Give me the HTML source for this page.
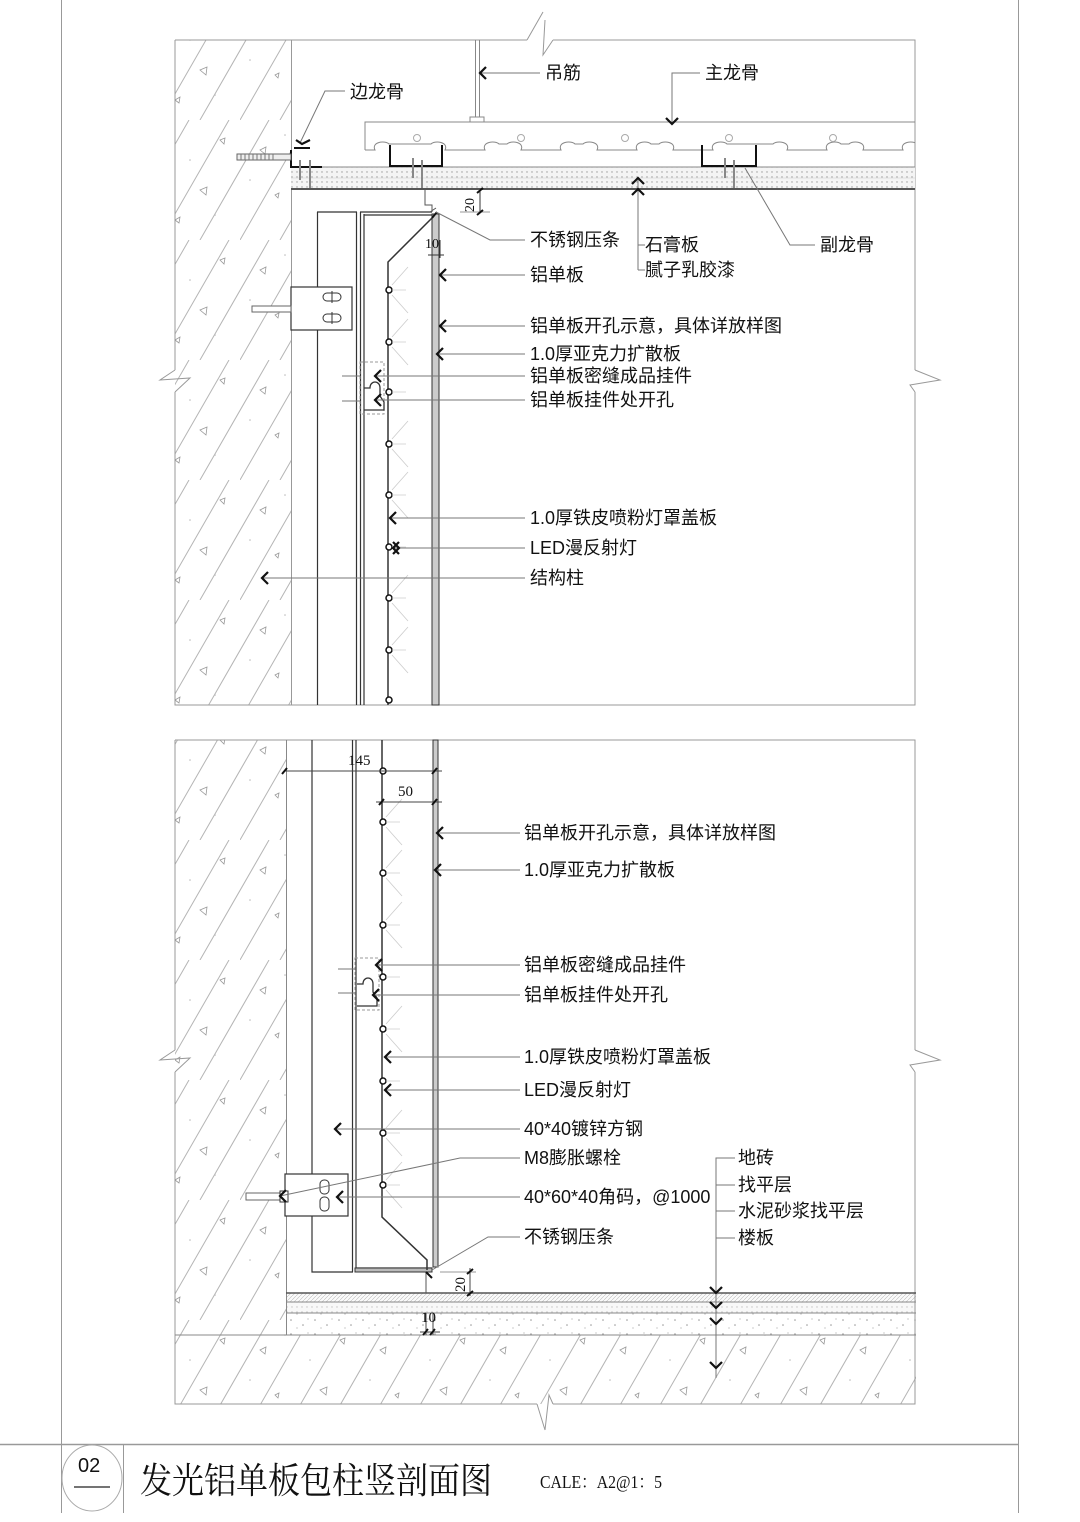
<!DOCTYPE html>
<html><head><meta charset="utf-8"><style>
html,body{margin:0;padding:0;background:#fff;}
svg{display:block;}
text{font-family:"Liberation Sans","Noto Sans CJK SC",sans-serif;fill:#111;}
</style></head><body>
<svg width="1080" height="1522" viewBox="0 0 1080 1522" xmlns="http://www.w3.org/2000/svg">
<defs>
<pattern id="conc" patternUnits="userSpaceOnUse" width="120" height="120">
 <rect width="120" height="120" fill="#fff"/>
 <path d="M0 120 L69 0 M40 120 L109 0 M80 120 L149 0 M-40 120 L29 0" stroke="#b5b5b5" stroke-width="1" fill="none"/>
 <path d="M20 30 l6 -3 l-1 7z M80 70 l7 -3 l-1 8z M55 100 l5 -3 l-1 6z M100 20 l5 -2 l-1 6z M35 75 l4 -2 l-1 5z" stroke="#999" stroke-width="0.8" fill="none"/>
 <circle cx="10" cy="60" r="0.8" fill="#bbb"/><circle cx="70" cy="40" r="0.8" fill="#bbb"/><circle cx="95" cy="95" r="0.8" fill="#bbb"/><circle cx="45" cy="15" r="0.8" fill="#bbb"/>
</pattern>
<pattern id="dots" patternUnits="userSpaceOnUse" width="5" height="5">
 <rect width="5" height="5" fill="#f4f4f4"/><circle cx="2" cy="2" r="0.7" fill="#999"/>
</pattern>
<pattern id="sand" patternUnits="userSpaceOnUse" width="24" height="14">
 <rect width="24" height="14" fill="#fff"/><circle cx="3" cy="4" r="0.8" fill="#999"/><circle cx="15" cy="9" r="0.8" fill="#999"/><circle cx="20" cy="3" r="0.6" fill="#aaa"/><circle cx="9" cy="12" r="0.6" fill="#aaa"/>
</pattern>
<pattern id="tile" patternUnits="userSpaceOnUse" width="4" height="4">
 <rect width="4" height="4" fill="#fafafa"/><path d="M0 4 L4 0" stroke="#bbb" stroke-width="0.6"/>
</pattern>
<clipPath id="cl"><rect x="300" y="100" width="615" height="80"/></clipPath>
</defs>

<!-- page borders -->
<line x1="61.5" y1="0" x2="61.5" y2="1513" stroke="#999"/>
<line x1="1018.5" y1="0" x2="1018.5" y2="1513" stroke="#999"/>
<line x1="0" y1="1444.5" x2="1018" y2="1444.5" stroke="#999" stroke-width="1.5"/>
<line x1="123.5" y1="1444" x2="123.5" y2="1513" stroke="#999"/>
<ellipse cx="92" cy="1478" rx="30" ry="33" fill="none" stroke="#aaa"/>
<text x="78" y="1472" style="font-family:'Liberation Sans Narrow','Liberation Sans',sans-serif;font-size:20px">02</text>
<line x1="74" y1="1487" x2="110" y2="1487" stroke="#222" stroke-width="1.2"/>
<text x="140" y="1493" textLength="352" lengthAdjust="spacingAndGlyphs" style="font-family:'Liberation Serif','Noto Serif CJK SC',serif;font-size:36px">发光铝单板包柱竖剖面图</text>
<text x="540" y="1488" textLength="122" lengthAdjust="spacingAndGlyphs" style="font-family:'Liberation Serif','Noto Serif CJK SC',serif;font-size:18px">CALE：A2@1：5</text>

<!-- ============ UPPER SECTION ============ -->
<rect x="175" y="40" width="116" height="665" fill="url(#conc)"/>
<path d="M175 40 H527 M553 40 H915 V370 M915 392 V705 H175 V392 M175 370 V40" fill="none" stroke="#999"/>
<path d="M527 40 L543 12 M553 40 L543 55 L545 20" fill="none" stroke="#999"/>
<path d="M175 370 L160 380 L190 378 L175 392 M915 370 L940 380 L910 385 L915 392" fill="none" stroke="#999"/>
<line x1="291.5" y1="40" x2="291.5" y2="705" stroke="#999"/>

<!-- ceiling -->
<rect x="291" y="167" width="624" height="23" fill="url(#dots)"/>
<line x1="291" y1="167" x2="915" y2="167" stroke="#888"/>
<line x1="291" y1="189" x2="915" y2="189" stroke="#555" stroke-width="2"/>
<line x1="291" y1="178" x2="915" y2="178" stroke="#ccc" stroke-width="0.6"/>
<path d="M365 150 V122 H915" fill="none" stroke="#888"/>
<g clip-path="url(#cl)">
<path d="M365 150 H375 c-4 -8 10 -10 14 -6 h42 c4 -4 18 -2 14 6 h40 c-4 -8 10 -10 14 -6 h8 c4 -4 18 -2 14 6 h40 c-4 -8 10 -10 14 -6 h8 c4 -4 18 -2 14 6 h40 c-4 -8 10 -10 14 -6 h8 c4 -4 18 -2 14 6 h40 c-4 -8 10 -10 14 -6 h46 c4 -4 18 -2 14 6 h40 c-4 -8 10 -10 14 -6 h8 c4 -4 18 -2 14 6 h40 c-4 -8 10 -10 14 -6 h8 c4 -4 18 -2 14 6 h26" fill="none" stroke="#888"/>
</g>
<g fill="none" stroke="#aaa"><circle cx="417" cy="138" r="3.5"/><circle cx="521" cy="138" r="3.5"/><circle cx="625" cy="138" r="3.5"/><circle cx="729" cy="138" r="3.5"/><circle cx="833" cy="138" r="3.5"/></g>
<path d="M390 145 V166 H442 V145 M702 145 V166 H756 V145" fill="none" stroke="#111" stroke-width="2"/>
<path d="M294 148 H310 M291 150 V167 H322" fill="none" stroke="#111" stroke-width="2"/>
<rect x="237" y="154" width="54" height="6" fill="#eee" stroke="#666"/>
<path d="M241 154 v6 M245 154 v6 M249 154 v6 M253 154 v6 M257 154 v6 M261 154 v6 M265 154 v6 M269 154 v6 M273 154 v6" stroke="#777"/>
<g stroke="#888" stroke-width="2"><line x1="300" y1="160" x2="300" y2="180"/><line x1="310" y1="160" x2="310" y2="188"/><line x1="413" y1="158" x2="413" y2="178"/><line x1="422" y1="160" x2="422" y2="188"/><line x1="725" y1="158" x2="725" y2="178"/><line x1="734" y1="160" x2="734" y2="188"/></g>
<line x1="475.5" y1="40" x2="475.5" y2="118" stroke="#888"/><line x1="479.5" y1="40" x2="479.5" y2="118" stroke="#888"/>
<rect x="470" y="117" width="14" height="5" fill="#fff" stroke="#888"/>

<!-- vertical system upper -->
<path d="M317 212 H357 M317.5 212 V705 M356.5 212 V705" fill="none" stroke="#333" stroke-width="1.2"/>
<path d="M360 212 H432 M360.5 212 V705 M364 214 V705 M364 215 H432" fill="none" stroke="#333" stroke-width="1.2"/>
<rect x="432" y="214" width="7" height="491" fill="#ccc" stroke="#333"/>
<path d="M432 218 L388 262 V705" fill="none" stroke="#333" stroke-width="1.5"/>
<path d="M425 190 V205 H432 V212 M430 212 L436 208" fill="none" stroke="#555"/>
<path d="M432 218 L437 212" stroke="#111" stroke-width="2"/>
<rect x="291" y="287" width="61" height="43" fill="#fff" stroke="#333" stroke-width="1.2"/>
<g fill="none" stroke="#333"><rect x="323" y="293" width="18" height="8" rx="4"/><rect x="323" y="314" width="18" height="8" rx="4"/><line x1="332" y1="291" x2="332" y2="303"/><line x1="332" y1="312" x2="332" y2="324"/></g>
<rect x="252" y="306" width="39" height="6" fill="#fff" stroke="#666"/>
<g stroke="#999" stroke-dasharray="3 2" fill="none"><rect x="360" y="362" width="24" height="52"/></g>
<path d="M364 388 h6 c0 -8 10 -8 10 0 v8 l4 6 v8 h-20" fill="none" stroke="#333" stroke-width="1.3"/>
<g stroke="#777"><line x1="342" y1="376" x2="360" y2="376"/><line x1="342" y1="401" x2="360" y2="401"/></g>
<g fill="#fff" stroke="#111" stroke-width="1.5">
<circle cx="389" cy="290" r="3"/><circle cx="389" cy="342" r="3"/><circle cx="389" cy="392" r="3"/><circle cx="389" cy="444" r="3"/><circle cx="389" cy="495" r="3"/><circle cx="389" cy="547" r="3"/><circle cx="389" cy="598" r="3"/><circle cx="389" cy="650" r="3"/><circle cx="389" cy="700" r="3"/>
</g>
<g stroke="#ccc" stroke-width="0.8">
<path d="M392 290 h14 M392 342 h14 M392 392 h14 M392 444 h14 M392 495 h14 M392 547 h14 M392 598 h14 M392 650 h14"/>
<path d="M392 285 l16 -18 M392 295 l16 18 M392 337 l16 -18 M392 347 l16 18 M392 439 l16 -18 M392 449 l16 18 M392 490 l16 -18 M392 500 l16 18 M392 593 l16 -18 M392 603 l16 18 M392 645 l16 -18 M392 655 l16 18"/>
</g>

<!-- upper dims -->
<g stroke="#333" fill="none"><line x1="480" y1="190" x2="480" y2="212"/><line x1="460" y1="212" x2="490" y2="212" stroke="#999"/><path d="M477 193 l6 -5 M477 215 l6 -5" stroke="#111" stroke-width="2"/>
<line x1="432" y1="240" x2="432" y2="258"/><line x1="440" y1="240" x2="440" y2="258"/><line x1="428" y1="255" x2="444" y2="255"/></g>
<text transform="translate(474,212) rotate(-90)" style="font-family:'Liberation Serif',serif;font-size:14px">20</text>
<text x="425" y="248" style="font-family:'Liberation Serif',serif;font-size:14px">10</text>

<!-- upper leaders -->
<g stroke="#777" fill="none" stroke-width="1">
<line x1="479" y1="73" x2="540" y2="73"/>
<path d="M700 73 H672 V124"/>
<path d="M345 91 H325 L300 143"/>
<path d="M436 212 L490 240 H525"/>
<path d="M640 245 H638 V180 M638 270 V245 M638 245 H645 M638 270 H645"/>
<path d="M745 168 L790 245 H815"/>
<line x1="440" y1="275" x2="525" y2="275"/>
<line x1="440" y1="326" x2="525" y2="326"/>
<line x1="437" y1="354" x2="525" y2="354"/>
<line x1="375" y1="376" x2="525" y2="376"/>
<line x1="375" y1="400" x2="525" y2="400"/>
<line x1="390" y1="518" x2="525" y2="518"/>
<line x1="393" y1="548" x2="525" y2="548"/>
<line x1="262" y1="578" x2="525" y2="578"/>
</g>
<g stroke="#111" stroke-width="2.2" fill="none">
<path d="M486 67 l-6 6 l6 6"/>
<path d="M666 118 l6 6 l6 -6"/>
<path d="M296 140 l6 4 l8 -4"/>
<path d="M632 184 l6 -6 l6 6 M632 195 l6 -6 l6 6"/>
<path d="M446 269 l-6 6 l6 6"/>
<path d="M446 320 l-6 6 l6 6"/>
<path d="M443 348 l-6 6 l6 6"/>
<path d="M381 370 l-6 6 l6 6"/>
<path d="M381 394 l-6 6 l6 6"/>
<path d="M396 512 l-6 6 l6 6"/>
<path d="M399 542 l-6 6 l6 6 M393 542 l6 6 l-6 6"/>
<path d="M268 572 l-6 6 l6 6"/>
</g>
<g style="font-size:18px">
<text x="545" y="79">吊筋</text>
<text x="705" y="79">主龙骨</text>
<text x="350" y="98">边龙骨</text>
<text x="530" y="246">不锈钢压条</text>
<text x="645" y="251">石膏板</text>
<text x="645" y="276">腻子乳胶漆</text>
<text x="820" y="251">副龙骨</text>
<text x="530" y="281">铝单板</text>
<text x="530" y="332">铝单板开孔示意，具体详放样图</text>
<text x="530" y="360">1.0厚亚克力扩散板</text>
<text x="530" y="382">铝单板密缝成品挂件</text>
<text x="530" y="406">铝单板挂件处开孔</text>
<text x="530" y="524">1.0厚铁皮喷粉灯罩盖板</text>
<text x="530" y="554">LED漫反射灯</text>
<text x="530" y="584">结构柱</text>
</g>

<!-- ============ LOWER SECTION ============ -->
<rect x="175" y="740" width="111" height="595" fill="url(#conc)"/>
<rect x="175" y="1335" width="741" height="69" fill="url(#conc)"/>
<rect x="286" y="1293" width="630" height="9" fill="url(#tile)"/>
<rect x="286" y="1302" width="630" height="11" fill="url(#dots)" opacity="0.6"/>
<rect x="286" y="1313" width="630" height="22" fill="url(#sand)"/>
<path d="M175 740 H915 V1050 M915 1072 V1404 H553 M537 1404 H175 V1072 M175 1050 V740" fill="none" stroke="#999"/>
<path d="M175 1050 L160 1060 L190 1058 L175 1072 M915 1050 L940 1060 L910 1065 L915 1072 M537 1404 L545 1430 L549 1395 L553 1404" fill="none" stroke="#999"/>
<path d="M286.5 740 V1335 M175 1335 H916 M286 1293 H916 M286 1302 H916 M286 1313 H916" fill="none" stroke="#888"/>
<line x1="286" y1="1293" x2="916" y2="1293" stroke="#555" stroke-width="1.5"/>

<path d="M312 740 V1272 H353 M312 1272 V740" fill="none" stroke="#333" stroke-width="1.2"/>
<path d="M352.5 740 V1272 M356 740 V1268 H432" fill="none" stroke="#333" stroke-width="1.2"/>
<rect x="355" y="1268" width="77" height="4" fill="#bbb" stroke="#333"/>
<rect x="433" y="740" width="5" height="527" fill="#ccc" stroke="#333"/>
<path d="M382 740 V1217 L427 1260 V1270" fill="none" stroke="#333" stroke-width="1.5"/>
<path d="M426 1272 V1293 M418 1293 H426" fill="none" stroke="#555"/>
<path d="M426 1272 l6 6" stroke="#111" stroke-width="2"/>
<rect x="285" y="1174" width="63" height="42" fill="#fff" stroke="#333" stroke-width="1.2"/>
<g fill="none" stroke="#333"><rect x="320" y="1180" width="9" height="14" rx="4"/><rect x="320" y="1197" width="9" height="14" rx="4"/></g>
<rect x="246" y="1193" width="39" height="7" fill="#fff" stroke="#666"/>
<rect x="280" y="1191" width="8" height="11" fill="#fff" stroke="#333"/>
<g stroke="#999" stroke-dasharray="3 2" fill="none"><rect x="355" y="958" width="24" height="52"/></g>
<path d="M357 984 h6 c0 -8 10 -8 10 0 v8 l4 6 v8 h-20" fill="none" stroke="#333" stroke-width="1.3"/>
<g stroke="#777"><line x1="338" y1="969" x2="355" y2="969"/><line x1="338" y1="993" x2="355" y2="993"/></g>
<g fill="#fff" stroke="#111" stroke-width="1.5">
<circle cx="383" cy="771" r="3"/><circle cx="383" cy="822" r="3"/><circle cx="383" cy="873" r="3"/><circle cx="383" cy="925" r="3"/><circle cx="383" cy="977" r="3"/><circle cx="383" cy="1029" r="3"/><circle cx="383" cy="1081" r="3"/><circle cx="383" cy="1133" r="3"/><circle cx="383" cy="1185" r="3"/>
</g>
<g stroke="#ccc" stroke-width="0.8">
<path d="M386 822 h14 M386 873 h14 M386 925 h14 M386 977 h14 M386 1029 h14 M386 1081 h14 M386 1133 h14 M386 1185 h14"/>
<path d="M386 817 l16 -18 M386 827 l16 18 M386 868 l16 -18 M386 878 l16 18 M386 920 l16 -18 M386 930 l16 18 M386 1024 l16 -18 M386 1034 l16 18 M386 1128 l16 -18 M386 1138 l16 18 M386 1180 l16 -18 M386 1190 l16 18"/>
</g>

<!-- lower dims -->
<g stroke="#444" fill="none">
<line x1="284" y1="771" x2="442" y2="771"/>
<line x1="376" y1="802" x2="442" y2="802"/>
<path d="M282 774 l5 -6 M432 774 l5 -6 M379 805 l5 -6 M432 805 l5 -6" stroke="#111" stroke-width="2"/>
<line x1="470" y1="1268" x2="470" y2="1296"/>
<line x1="440" y1="1272" x2="476" y2="1272" stroke="#999"/>
<path d="M467 1274 l6 -5 M467 1296 l6 -5" stroke="#111" stroke-width="2"/>
<line x1="426" y1="1313" x2="426" y2="1335"/><line x1="433" y1="1313" x2="433" y2="1335"/>
<line x1="420" y1="1332" x2="440" y2="1332"/>
<path d="M423 1335 l5 -6 M430 1335 l5 -6" stroke="#111" stroke-width="1.8"/>
</g>
<text x="348" y="765" style="font-family:'Liberation Serif',serif;font-size:15px">145</text>
<text x="398" y="796" style="font-family:'Liberation Serif',serif;font-size:15px">50</text>
<text transform="translate(465,1292) rotate(-90)" style="font-family:'Liberation Serif',serif;font-size:15px">20</text>
<text x="421" y="1322" style="font-family:'Liberation Serif',serif;font-size:15px">10</text>

<!-- lower leaders -->
<g stroke="#777" fill="none">
<line x1="437" y1="833" x2="520" y2="833"/>
<line x1="435" y1="870" x2="520" y2="870"/>
<line x1="376" y1="965" x2="520" y2="965"/>
<line x1="373" y1="995" x2="520" y2="995"/>
<line x1="385" y1="1057" x2="520" y2="1057"/>
<line x1="385" y1="1090" x2="520" y2="1090"/>
<line x1="335" y1="1129" x2="520" y2="1129"/>
<path d="M280 1196 L460 1158 H520"/>
<line x1="337" y1="1197" x2="520" y2="1197"/>
<path d="M432 1270 L488 1237 H520"/>
<path d="M735 1158 H716 V1378 M716 1185 H735 M716 1211 H735 M716 1238 H735"/>
</g>
<g stroke="#111" stroke-width="2.2" fill="none">
<path d="M443 827 l-6 6 l6 6"/>
<path d="M441 864 l-6 6 l6 6"/>
<path d="M382 959 l-6 6 l6 6"/>
<path d="M379 989 l-6 6 l6 6"/>
<path d="M391 1051 l-6 6 l6 6"/>
<path d="M391 1084 l-6 6 l6 6"/>
<path d="M341 1123 l-6 6 l6 6"/>
<path d="M286 1190 l-6 6 l6 6"/>
<path d="M343 1191 l-6 6 l6 6"/>
<path d="M710 1287 l6 6 l6 -6 M710 1302 l6 6 l6 -6 M710 1318 l6 6 l6 -6 M710 1362 l6 6 l6 -6"/>
</g>
<g style="font-size:18px">
<text x="524" y="839">铝单板开孔示意，具体详放样图</text>
<text x="524" y="876">1.0厚亚克力扩散板</text>
<text x="524" y="971">铝单板密缝成品挂件</text>
<text x="524" y="1001">铝单板挂件处开孔</text>
<text x="524" y="1063">1.0厚铁皮喷粉灯罩盖板</text>
<text x="524" y="1096">LED漫反射灯</text>
<text x="524" y="1135">40*40镀锌方钢</text>
<text x="524" y="1164">M8膨胀螺栓</text>
<text x="524" y="1203">40*60*40角码，@1000</text>
<text x="524" y="1243">不锈钢压条</text>
<text x="738" y="1164">地砖</text>
<text x="738" y="1191">找平层</text>
<text x="738" y="1217">水泥砂浆找平层</text>
<text x="738" y="1244">楼板</text>
</g>
</svg>
</body></html>
